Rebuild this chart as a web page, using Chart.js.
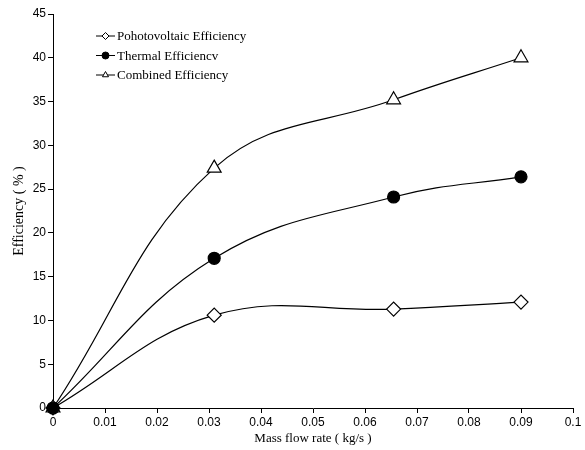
<!doctype html>
<html lang="en">
<head>
    <meta charset="utf-8">
    <title>Efficiency vs mass flow rate</title>
    <script src="https://cdn.jsdelivr.net/npm/chart.js"></script>
    <style>
        html, body { margin: 0; padding: 0; background: #fff; }
        #wrap { width: 585px; height: 450px; }
    </style>
</head>
<body>
    <div id="wrap">
        <canvas id="myChart" width="585" height="450"></canvas>
    </div>
    <script>
        // data
        const massFlow = [0, 0.031, 0.0655, 0.09];
        const pvEff = [0, 10.6, 11.3, 12.1];
        const thermalEff = [0, 17.1, 24.1, 26.4];
        const combinedEff = [0, 27.4, 35.2, 40.0];
        const xTicks = [0, 0.01, 0.02, 0.03, 0.04, 0.05, 0.06, 0.07, 0.08, 0.09, 0.1];
        const yTicks = [0, 5, 10, 15, 20, 25, 30, 35, 40, 45];
        const seriesNames = ['Pohotovoltaic Efficiency', 'Thermal Efficiencv', 'Combined Efficiency'];

        function toPoints(ys) {
            return massFlow.map(function (x, i) { return { x: x, y: ys[i] }; });
        }

        // legend drawn inside the plot, line + marker + text
        const innerLegend = {
            id: 'innerLegend',
            afterDraw: function (chart) {
                const ctx = chart.ctx;
                ctx.save();
                chart.data.datasets.forEach(function (ds, i) {
                    const y = 36 + i * 19.5;
                    ctx.strokeStyle = '#000';
                    ctx.lineWidth = 1;
                    ctx.beginPath();
                    ctx.moveTo(96, y);
                    ctx.lineTo(115, y);
                    ctx.stroke();
                    ctx.fillStyle = ds.pointBackgroundColor;
                    Chart.helpers.drawPoint(ctx, {
                        pointStyle: ds.pointStyle,
                        radius: 3.5,
                        borderWidth: 1,
                        rotation: 0
                    }, 105.5, y);
                    ctx.fillStyle = '#000';
                    ctx.font = '13px "Liberation Serif", "Times New Roman", serif';
                    ctx.textBaseline = 'middle';
                    ctx.fillText(ds.label, 117, y + 1);
                });
                ctx.restore();
            }
        };

        function makeSet(i, ys, style, fill, r, order) {
            return {
                label: seriesNames[i],
                data: toPoints(ys),
                order: order,
                showLine: true,
                tension: 0.4,
                borderColor: '#000',
                borderWidth: 1.2,
                pointStyle: style,
                pointRadius: r,
                pointBackgroundColor: fill,
                pointBorderColor: '#000',
                pointBorderWidth: 1.2,
                clip: false
            };
        }

        const tickFont = { family: '"Liberation Sans", Arial, sans-serif', size: 12 };
        const serif = '"Liberation Serif", "Times New Roman", serif';

        new Chart(document.getElementById('myChart'), {
            type: 'scatter',
            data: {
                datasets: [
                    makeSet(0, pvEff, 'rectRot', '#fff', 7, 2),
                    makeSet(1, thermalEff, 'circle', '#000', 6, 0),
                    makeSet(2, combinedEff, 'triangle', '#fff', 8, 1)
                ]
            },
            options: {
                responsive: false,
                animation: false,
                layout: { padding: { top: 14, right: 12, left: 0, bottom: 0 } },
                plugins: { legend: { display: false }, tooltip: { enabled: false } },
                scales: {
                    x: {
                        type: 'linear',
                        min: 0,
                        max: 0.1,
                        afterBuildTicks: function (s) { s.ticks = xTicks.map(function (v) { return { value: v }; }); },
                        afterFit: function (s) { s.height = 42; },
                        ticks: {
                            color: '#000',
                            font: tickFont,
                            padding: 2,
                            maxRotation: 0,
                            callback: function (v) { return String(Number(v.toFixed(2))); }
                        },
                        grid: { drawOnChartArea: false, color: '#000', tickLength: 5 },
                        border: { color: '#000', width: 1 },
                        title: {
                            display: true,
                            text: 'Mass flow rate ( kg/s )',
                            color: '#000',
                            font: { family: serif, size: 13 },
                            padding: { top: 0, bottom: 4 }
                        }
                    },
                    y: {
                        min: 0,
                        max: 45,
                        afterBuildTicks: function (s) { s.ticks = yTicks.map(function (v) { return { value: v }; }); },
                        afterFit: function (s) { s.width = 53; },
                        ticks: { color: '#000', font: tickFont, padding: 2 },
                        grid: { drawOnChartArea: false, color: '#000', tickLength: 5 },
                        border: { color: '#000', width: 1 },
                        title: {
                            display: true,
                            text: 'Efficiency ( % )',
                            color: '#000',
                            font: { family: serif, size: 14 },
                            padding: { top: 11, bottom: 0 }
                        }
                    }
                }
            },
            plugins: [innerLegend]
        });
    </script>
</body>
</html>
